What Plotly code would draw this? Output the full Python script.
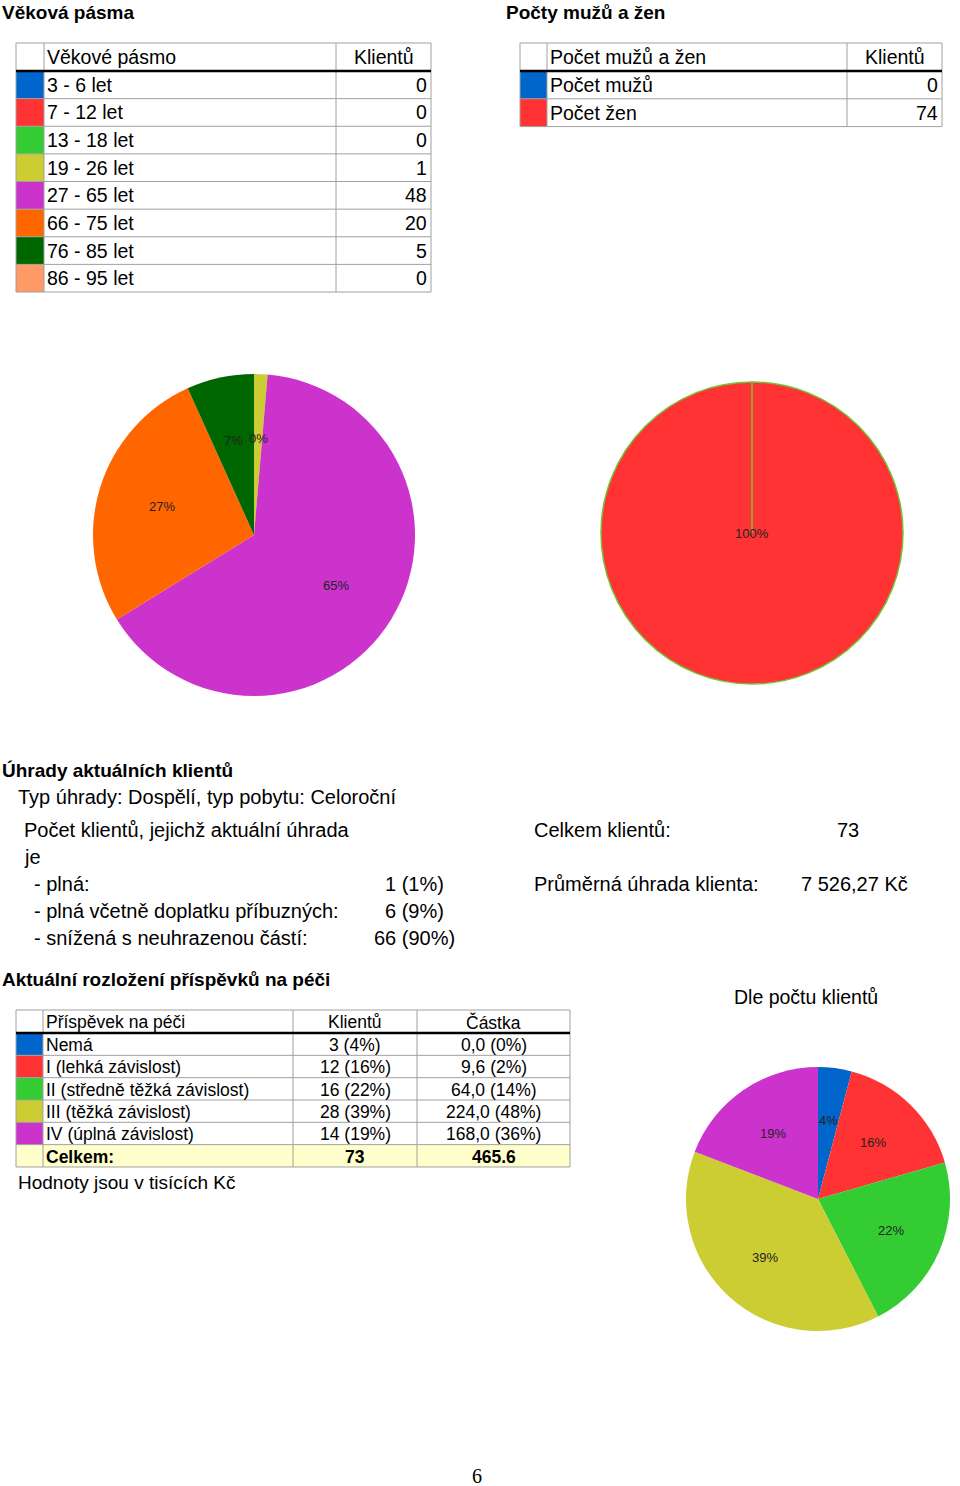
import math
import plotly.graph_objects as go

W, H = 960, 1486
FONT = "Liberation Sans, Arial, sans-serif"
PIE_FONT = "Liberation Sans, Arial, sans-serif"

# ---------------- data ----------------
age_bands = ["3 - 6 let", "7 - 12 let", "13 - 18 let", "19 - 26 let",
             "27 - 65 let", "66 - 75 let", "76 - 85 let", "86 - 95 let"]
age_clients = [0, 0, 0, 1, 48, 20, 5, 0]
age_pct_labels = ["", "", "", "0%", "65%", "27%", "7%", ""]
age_colors = ["#0066CC", "#FF3333", "#33CC33", "#CCCC33",
              "#CC33CC", "#FF6600", "#006600", "#FF9966"]

gender_labels = ["Počet mužů", "Počet žen"]
gender_clients = [0, 74]
gender_pct_labels = ["", "100%"]
gender_colors = ["#0066CC", "#FF3333"]

care_levels = ["Nemá", "I (lehká závislost)", "II (středně těžká závislost)",
               "III (těžká závislost)", "IV (úplná závislost)"]
care_clients = [3, 12, 16, 28, 14]
care_client_pct = [4, 16, 22, 39, 19]
care_amount = [0.0, 9.6, 64.0, 224.0, 168.0]
care_amount_pct = [0, 2, 14, 48, 36]
care_colors = ["#0066CC", "#FF3333", "#33CC33", "#CCCC33", "#CC33CC"]
care_total_clients = 73
care_total_amount = "465.6"

pay_labels = ["- plná:", "- plná včetně doplatku příbuzných:", "- snížená s neuhrazenou částí:"]
pay_counts = [1, 6, 66]
pay_pct = [1, 9, 90]
total_clients = 73
avg_payment = "7 526,27 Kč"

# ---------------- helpers ----------------
ann, shapes = [], []


def px(x):
    return x / W


def py(y):
    return 1 - y / H


def text(x, y, s, size=20, bold=False, anchor="left", family=FONT, color="black"):
    ann.append(dict(x=px(x), y=py(y), xref="paper", yref="paper",
                    text=f"<b>{s}</b>" if bold else s, showarrow=False,
                    xanchor=anchor, yanchor="middle",
                    font=dict(family=family, size=size, color=color)))


def line(x0, y0, x1, y1, color="#A0A0A0", width=1, layer="above"):
    shapes.append(dict(type="line", xref="paper", yref="paper",
                       x0=px(x0), y0=py(y0), x1=px(x1), y1=py(y1),
                       line=dict(color=color, width=width), layer=layer))


def rect(x0, y0, x1, y1, fill):
    shapes.append(dict(type="rect", xref="paper", yref="paper",
                       x0=px(x0), y0=py(y0), x1=px(x1), y1=py(y1),
                       fillcolor=fill, line=dict(width=0), layer="below"))


def table(cols, top, head_bot, row_h, headers, head_align, rows, colors,
          aligns, size, total_row=None, total_fill="#FFFFCC", dy=0):
    n = len(rows) + (1 if total_row else 0)
    bottom = head_bot + n * row_h
    ys = [head_bot + i * row_h for i in range(n + 1)]
    for i, c in enumerate(colors):
        rect(cols[0], ys[i], cols[1], ys[i + 1], c)
    if total_row:
        rect(cols[0], ys[-2], cols[-1], ys[-1], total_fill)
    # grid
    line(cols[0], top, cols[-1], top)
    for y in ys[1:]:
        line(cols[0], y, cols[-1], y)
    for x in cols:
        line(x, top, x, bottom)
    line(cols[0], head_bot, cols[-1], head_bot, color="black", width=2.5)

    def put(ci, yc, s, al, bold=False):
        x0, x1 = cols[ci], cols[ci + 1]
        if al == "left":
            text(x0 + 1, yc, s, size, bold, "left")
        elif al == "right":
            text(x1 - 2, yc, s, size, bold, "right")
        else:
            text((x0 + x1) / 2, yc, s, size, bold, "center")

    for j, h in enumerate(headers):
        put(j + 1, (top + head_bot) / 2 + dy, h, head_align[j])
    for i, r in enumerate(rows):
        for j, s in enumerate(r):
            put(j + 1, ys[i] + row_h / 2 + dy, s, aligns[j])
    if total_row:
        for j, s in enumerate(total_row):
            put(j + 1, ys[-2] + row_h / 2 + dy, s, "left" if j == 0 else "center", bold=True)


def pie_labels(values, labels, cx, cy, r, frac=0.6):
    total = sum(values)
    cum = 0
    for v, lab in zip(values, labels):
        if lab:
            mid = math.radians((cum + v / 2) / total * 360)
            rr = 0 if v == total else frac * r
            text(cx + rr * math.sin(mid), cy - rr * math.cos(mid), lab, 13,
                 family=PIE_FONT, anchor="center", color="#222222")
        cum += v


def pie(values, colors, cx, cy, r, line_color=None, line_width=0):
    return go.Pie(values=values, sort=False, direction="clockwise", rotation=0,
                  marker=dict(colors=colors,
                              line=dict(color=line_color or "white", width=line_width)),
                  textinfo="none", hoverinfo="skip", showlegend=False,
                  domain=dict(x=[px(cx - r), px(cx + r)], y=[py(cy + r), py(cy - r)]))


# ---------------- section 1: age & gender ----------------
text(0, 12, "Věková pásma", 19, bold=True)
text(504, 12, "Počty mužů a žen", 19, bold=True)

table([16, 44, 336, 431], 43, 71, 27.625, ["Věkové pásmo", "Klientů"], ["left", "center"],
      [[b, str(v)] for b, v in zip(age_bands, age_clients)], age_colors,
      ["left", "right"], 19.5)

table([520, 547, 847, 942], 43, 71, 27.8, ["Počet mužů a žen", "Klientů"], ["left", "center"],
      [[g, str(v)] for g, v in zip(gender_labels, gender_clients)], gender_colors,
      ["left", "right"], 19.5)

P1 = (254, 535, 161)
P2 = (752, 533, 151)
P3 = (818, 1199, 132)

traces = [
    pie(age_clients, age_colors, *P1),
    pie(gender_clients, gender_colors, *P2, line_color="#77C13A", line_width=1.5),
    pie(care_clients, care_colors, *P3),
]
pie_labels(age_clients, age_pct_labels, *P1)
pie_labels(gender_clients, gender_pct_labels, *P2)
pie_labels(care_clients, [f"{p}%" for p in care_client_pct], *P3)
# border of the zero-size "Počet mužů" slice at 12 o'clock
line(P2[0], P2[1], P2[0], P2[1] - P2[2], color="#77C13A", width=1.5)

# ---------------- section 2: payments ----------------
text(0, 770, "Úhrady aktuálních klientů", 19, bold=True)
text(16, 797, "Typ úhrady: Dospělí, typ pobytu: Celoroční", 20)
text(22, 830, "Počet klientů, jejichž aktuální úhrada", 20)
text(22, 857, "je", 20)
for i, (lab, c, p) in enumerate(zip(pay_labels, pay_counts, pay_pct)):
    y = 884 + i * 27
    text(32, y, lab, 20)
    text(414, y, f"{c} ({p}%)", 20, anchor="center")
text(532, 830, "Celkem klientů:", 20)
text(848, 830, str(total_clients), 20, anchor="center")
text(532, 884, "Průměrná úhrada klienta:", 20)
text(854, 884, avg_payment, 20, anchor="center")

# ---------------- section 3: care allowance ----------------
text(0, 979, "Aktuální rozložení příspěvků na péči", 19, bold=True)
care_rows = []
for lv, c, cp, a, ap in zip(care_levels, care_clients, care_client_pct, care_amount, care_amount_pct):
    care_rows.append([lv, f"{c} ({cp}%)", f"{a:.1f}".replace(".", ",") + f" ({ap}%)"])
table([16, 43, 293, 417, 570], 1010, 1033, 22.33,
      ["Příspěvek na péči", "Klientů", "Částka"], ["left", "center", "center"],
      care_rows, care_colors, ["left", "center", "center"], 17.5,
      total_row=["Celkem:", str(care_total_clients), care_total_amount], dy=1)
text(16, 1182, "Hodnoty jsou v tisících Kč", 19)
text(806, 997, "Dle počtu klientů", 19.5, anchor="center")

text(477, 1476, "6", 20, family="Liberation Serif, Times New Roman, serif", anchor="center")

fig = go.Figure(traces)
fig.update_layout(width=W, height=H, margin=dict(l=0, r=0, t=0, b=0),
                  paper_bgcolor="white", plot_bgcolor="white",
                  annotations=ann, shapes=shapes)
fig.write_html("out.html")
